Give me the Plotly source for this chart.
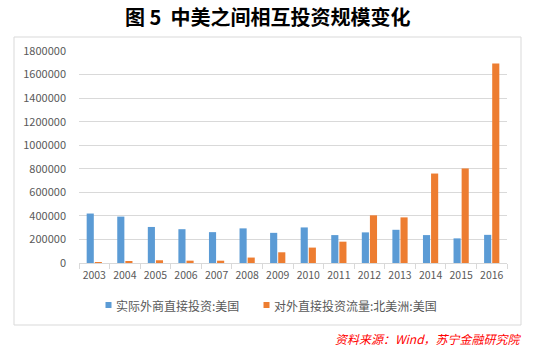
import plotly.graph_objects as go

years = ["2003", "2004", "2005", "2006", "2007", "2008", "2009", "2010",
         "2011", "2012", "2013", "2014", "2015", "2016"]
fdi_us = [420000, 394000, 306000, 287000, 262000, 294000, 256000, 302000,
          237000, 260000, 282000, 237000, 209000, 239000]
ofdi_us = [6500, 12000, 23200, 19800, 19600, 46200, 90900, 130800,
           181100, 404800, 387300, 759600, 802900, 1693700]
series_names = ["实际外商直接投资:美国", "对外直接投资流量:北美洲:美国"]
colors = ["#5B9BD5", "#ED7D31"]
yticks = [0, 200000, 400000, 600000, 800000, 1000000, 1200000, 1400000, 1600000, 1800000]

W, H = 547, 346
L, R, T, B = 79, 40, 51, 83
pw, ph = W - L - R, H - T - B

def px_x(p):
    return (p - L) / pw

def px_y(p):
    return (H - B - p) / ph

FONT = "Noto Sans CJK SC, Liberation Sans, sans-serif"
GRAY = "#595959"
LINE = "#D9D9D9"

fig = go.Figure()
fig.add_trace(go.Bar(x=years, y=fdi_us, name=series_names[0], marker_color=colors[0],
                     marker_line_width=0, showlegend=False))
fig.add_trace(go.Bar(x=years, y=ofdi_us, name=series_names[1], marker_color=colors[1],
                     marker_line_width=0, showlegend=False))

shapes = [
    dict(type="rect", xref="paper", yref="paper",
         x0=px_x(14), x1=px_x(521), y0=px_y(325), y1=px_y(37),
         line=dict(color=LINE, width=1), fillcolor="rgba(0,0,0,0)", layer="below"),
    dict(type="rect", xref="paper", yref="paper",
         x0=px_x(105.5), x1=px_x(111.5), y0=px_y(308), y1=px_y(302),
         line=dict(width=0), fillcolor=colors[0]),
    dict(type="rect", xref="paper", yref="paper",
         x0=px_x(263.5), x1=px_x(269.5), y0=px_y(308), y1=px_y(302),
         line=dict(width=0), fillcolor=colors[1]),
]

annotations = [
    dict(text="<b>图 5  中美之间相互投资规模变化</b>", xref="paper", yref="paper",
         x=px_x(267), y=px_y(16), xanchor="center", yanchor="middle", showarrow=False,
         font=dict(family=FONT, size=20, color="#000000")),
    dict(text=series_names[0], xref="paper", yref="paper",
         x=px_x(114), y=px_y(305), xanchor="left", yanchor="middle", showarrow=False,
         font=dict(family=FONT, size=12, color=GRAY)),
    dict(text=series_names[1], xref="paper", yref="paper",
         x=px_x(272), y=px_y(305), xanchor="left", yanchor="middle", showarrow=False,
         font=dict(family=FONT, size=12, color=GRAY)),
    dict(text="<i>资料来源：Wind，苏宁金融研究院</i>", xref="paper", yref="paper",
         x=px_x(524), y=px_y(338), xanchor="right", yanchor="middle", showarrow=False,
         font=dict(family=FONT, size=12, color="#FF0000")),
]

fig.update_layout(
    width=W, height=H,
    margin=dict(l=L, r=R, t=T, b=B, pad=0),
    paper_bgcolor="white", plot_bgcolor="white",
    barmode="group", bargap=0.47, bargroupgap=0.12,
    shapes=shapes, annotations=annotations,
    font=dict(family=FONT, color=GRAY),
    showlegend=False,
)
fig.update_xaxes(
    type="category", showgrid=False, showline=True, linecolor=LINE, linewidth=1,
    ticks="outside", tickson="boundaries", ticklen=5, tickcolor=LINE,
    tickangle=0, ticklabelstandoff=2,
    tickfont=dict(family=FONT, size=10.5, color=GRAY),
)
fig.update_yaxes(
    range=[0, 1800000], tickvals=yticks, ticktext=[str(v) for v in yticks],
    showgrid=True, gridcolor=LINE, gridwidth=1, zeroline=False, showline=False,
    ticks="", ticklabelstandoff=12,
    tickfont=dict(family=FONT, size=11, color=GRAY),
)

fig.write_html("out.html")
